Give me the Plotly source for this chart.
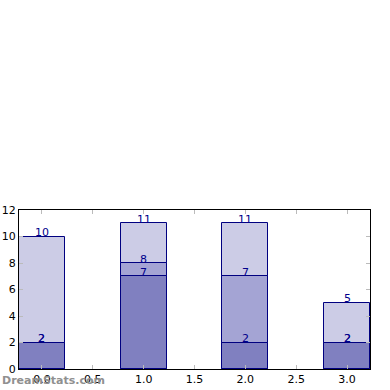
import plotly.graph_objects as go

x = [0, 1, 2, 3]
light_vals = [10, 11, 11, 5]
mid_vals = [2, 8, 7, 2]
dark_vals = [2, 7, 2, 2]

series = [
    ("light", light_vals, "rgb(204,204,230)"),
    ("mid", mid_vals, "rgb(164,164,212)"),
    ("dark", dark_vals, "rgb(128,128,192)"),
]

fig = go.Figure()
for name, vals, col in series:
    fig.add_trace(go.Bar(
        x=x, y=vals, width=0.45, name=name,
        marker=dict(color=col, line=dict(color="#000080", width=1)),
        showlegend=False, hoverinfo="skip",
    ))

for name, vals, col in series:
    for xi, v in zip(x, vals):
        fig.add_annotation(x=xi, y=v, text=str(v), showarrow=False,
                           yanchor="middle", yshift=4,
                           font=dict(color="#00008b", size=11, family="DejaVu Sans"))

fig.add_annotation(xref="paper", yref="paper", x=-19/351, y=-11/159,
                   xanchor="left", yanchor="middle", text="<b>DreamStats.com</b>",
                   showarrow=False,
                   font=dict(color="#909090", size=11, family="DejaVu Sans"))

fig.update_layout(
    width=390, height=390,
    margin=dict(l=19, r=20, t=210, b=21),
    plot_bgcolor="white", paper_bgcolor="white",
    barmode="overlay", bargap=0,
    font=dict(family="DejaVu Sans", size=11, color="black"),
)
fig.update_xaxes(range=[-0.225, 3.225], tickvals=[0, 0.5, 1, 1.5, 2, 2.5, 3],
                 ticktext=["0.0", "0.5", "1.0", "1.5", "2.0", "2.5", "3.0"],
                 showgrid=False, zeroline=False, showline=True, linecolor="black",
                 linewidth=1, mirror="ticks", ticks="inside", ticklen=4,
                 tickcolor="#bbbbbb", automargin=False)
fig.update_yaxes(range=[0, 12], tickvals=[0, 2, 4, 6, 8, 10, 12],
                 showgrid=False, zeroline=False, showline=True, linecolor="black",
                 linewidth=1, mirror="ticks", ticks="inside", ticklen=4,
                 tickcolor="#bbbbbb", automargin=False)

fig.write_html("out.html", post_script="document.body.style.margin='0';",
               config={"displayModeBar": False})
